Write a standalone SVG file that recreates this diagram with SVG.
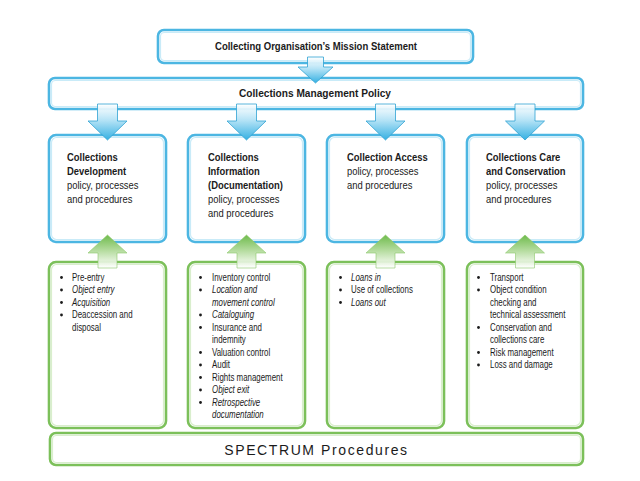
<svg xmlns="http://www.w3.org/2000/svg" width="640" height="481" viewBox="0 0 640 481">
<defs>
<linearGradient id="gBlue" x1="0" y1="0" x2="0" y2="1">
<stop offset="0" stop-color="#ffffff" stop-opacity="0.9"/>
<stop offset="0.45" stop-color="#b5e3f6"/>
<stop offset="1" stop-color="#35b0e2"/>
</linearGradient>
<linearGradient id="gGreen" x1="0" y1="0" x2="0" y2="1">
<stop offset="0" stop-color="#6fbb4c"/>
<stop offset="0.5" stop-color="#b9dea4"/>
<stop offset="1" stop-color="#ffffff" stop-opacity="0.9"/>
</linearGradient>
</defs>
<style>
.bb{fill:#fff;stroke:#4cb6e2;stroke-width:2.6}
.bi{fill:none;stroke:#c9ebf8;stroke-width:1.2}
.gb{fill:#fff;stroke:#7cc05a;stroke-width:2.6}
.gi{fill:none;stroke:#d9eecd;stroke-width:1.2}
text{font-family:"Liberation Sans",Arial,sans-serif;fill:#1b1b1b}
.t{font-size:11.5px;font-weight:bold}
.h{font-size:11.5px;font-weight:bold}
.p{font-size:11.5px}
.l{font-size:10px}
.i{font-style:italic}
.sp{font-size:14px;letter-spacing:1.6px}
.ab{fill:url(#gBlue);stroke:#2fa2d3;stroke-width:0.8}
.ag{fill:url(#gGreen);stroke:#8cc86a;stroke-width:0.6}
.dot{fill:#1b1b1b}
</style>

<g id="mission">
<rect class="bb" x="158" y="30" width="315" height="33" rx="6"/>
<rect class="bi" x="160.5" y="32.5" width="310" height="28" rx="4"/>
<text class="t" x="316" y="50" text-anchor="middle" textLength="202" lengthAdjust="spacingAndGlyphs">Collecting Organisation’s Mission Statement</text>
</g>

<g id="policy">
<rect class="bb" x="49" y="78" width="534" height="31" rx="6"/>
<rect class="bi" x="51.5" y="80.5" width="529" height="26" rx="4"/>
<text class="t" x="315" y="97" text-anchor="middle" textLength="152" lengthAdjust="spacingAndGlyphs">Collections Management Policy</text>
</g>

<g id="col1">
<rect class="bb" x="49" y="135" width="117" height="107" rx="7"/>
<rect class="bi" x="51.5" y="137.5" width="112" height="102" rx="5"/>
<g transform="translate(67,0) scale(0.82,1)">
<text class="h" x="0" y="161">Collections</text>
<text class="h" x="0" y="175">Development</text>
<text class="p" x="0" y="189">policy, processes</text>
<text class="p" x="0" y="203">and procedures</text>
</g>
</g>

<g id="col2">
<rect class="bb" x="188" y="135" width="117" height="107" rx="7"/>
<rect class="bi" x="190.5" y="137.5" width="112" height="102" rx="5"/>
<g transform="translate(208,0) scale(0.82,1)">
<text class="h" x="0" y="161">Collections</text>
<text class="h" x="0" y="175">Information</text>
<text class="h" x="0" y="189">(Documentation)</text>
<text class="p" x="0" y="203">policy, processes</text>
<text class="p" x="0" y="217">and procedures</text>
</g>
</g>

<g id="col3">
<rect class="bb" x="327" y="135" width="117" height="107" rx="7"/>
<rect class="bi" x="329.5" y="137.5" width="112" height="102" rx="5"/>
<g transform="translate(347,0) scale(0.82,1)">
<text class="h" x="0" y="161">Collection Access</text>
<text class="p" x="0" y="175">policy, processes</text>
<text class="p" x="0" y="189">and procedures</text>
</g>
</g>

<g id="col4">
<rect class="bb" x="467" y="135" width="116" height="107" rx="7"/>
<rect class="bi" x="469.5" y="137.5" width="111" height="102" rx="5"/>
<g transform="translate(486,0) scale(0.82,1)">
<text class="h" x="0" y="161">Collections Care</text>
<text class="h" x="0" y="175">and Conservation</text>
<text class="p" x="0" y="189">policy, processes</text>
<text class="p" x="0" y="203">and procedures</text>
</g>
</g>

<g id="list1">
<rect class="gb" x="49" y="262" width="117" height="166" rx="7"/>
<rect class="gi" x="51.5" y="264.5" width="112" height="161" rx="5"/>
<circle class="dot" cx="61.5" cy="277.5" r="1.4"/>
<circle class="dot" cx="61.5" cy="290" r="1.4"/>
<circle class="dot" cx="61.5" cy="302.5" r="1.4"/>
<circle class="dot" cx="61.5" cy="315" r="1.4"/>
<g transform="translate(72,0) scale(0.79,1)">
<text class="l" x="0" y="281">Pre-entry</text>
<text class="l i" x="0" y="293.5">Object entry</text>
<text class="l i" x="0" y="306">Acquisition</text>
<text class="l" x="0" y="318.5">Deaccession and</text>
<text class="l" x="0" y="331">disposal</text>
</g>
</g>

<g id="list2">
<rect class="gb" x="188" y="262" width="117" height="166" rx="7"/>
<rect class="gi" x="190.5" y="264.5" width="112" height="161" rx="5"/>
<circle class="dot" cx="200.5" cy="277.5" r="1.4"/>
<circle class="dot" cx="200.5" cy="290" r="1.4"/>
<circle class="dot" cx="200.5" cy="315" r="1.4"/>
<circle class="dot" cx="200.5" cy="327.5" r="1.4"/>
<circle class="dot" cx="200.5" cy="352.5" r="1.4"/>
<circle class="dot" cx="200.5" cy="365" r="1.4"/>
<circle class="dot" cx="200.5" cy="377.5" r="1.4"/>
<circle class="dot" cx="200.5" cy="390" r="1.4"/>
<circle class="dot" cx="200.5" cy="402.5" r="1.4"/>
<g transform="translate(212,0) scale(0.79,1)">
<text class="l" x="0" y="281">Inventory control</text>
<text class="l i" x="0" y="293.5">Location and</text>
<text class="l i" x="0" y="306">movement control</text>
<text class="l i" x="0" y="318.5">Cataloguing</text>
<text class="l" x="0" y="331">Insurance and</text>
<text class="l" x="0" y="343.5">indemnity</text>
<text class="l" x="0" y="356">Valuation control</text>
<text class="l" x="0" y="368.5">Audit</text>
<text class="l" x="0" y="381">Rights management</text>
<text class="l i" x="0" y="393.5">Object exit</text>
<text class="l i" x="0" y="406">Retrospective</text>
<text class="l i" x="0" y="418.5">documentation</text>
</g>
</g>

<g id="list3">
<rect class="gb" x="327" y="262" width="117" height="166" rx="7"/>
<rect class="gi" x="329.5" y="264.5" width="112" height="161" rx="5"/>
<circle class="dot" cx="340.5" cy="277.5" r="1.4"/>
<circle class="dot" cx="340.5" cy="290" r="1.4"/>
<circle class="dot" cx="340.5" cy="302.5" r="1.4"/>
<g transform="translate(351,0) scale(0.79,1)">
<text class="l i" x="0" y="281">Loans in</text>
<text class="l" x="0" y="293.5">Use of collections</text>
<text class="l i" x="0" y="306">Loans out</text>
</g>
</g>

<g id="list4">
<rect class="gb" x="467" y="262" width="116" height="166" rx="7"/>
<rect class="gi" x="469.5" y="264.5" width="111" height="161" rx="5"/>
<circle class="dot" cx="478.5" cy="277.5" r="1.4"/>
<circle class="dot" cx="478.5" cy="290" r="1.4"/>
<circle class="dot" cx="478.5" cy="327.5" r="1.4"/>
<circle class="dot" cx="478.5" cy="352.5" r="1.4"/>
<circle class="dot" cx="478.5" cy="365" r="1.4"/>
<g transform="translate(490,0) scale(0.79,1)">
<text class="l" x="0" y="281">Transport</text>
<text class="l" x="0" y="293.5">Object condition</text>
<text class="l" x="0" y="306">checking and</text>
<text class="l" x="0" y="318.5">technical assessment</text>
<text class="l" x="0" y="331">Conservation and</text>
<text class="l" x="0" y="343.5">collections care</text>
<text class="l" x="0" y="356">Risk management</text>
<text class="l" x="0" y="368.5">Loss and damage</text>
</g>
</g>

<g id="spectrum">
<rect class="gb" x="50" y="433" width="533" height="32" rx="6"/>
<rect class="gi" x="52.5" y="435.5" width="528" height="27" rx="4"/>
<text class="sp" x="316.5" y="455" text-anchor="middle">SPECTRUM Procedures</text>
</g>

<g id="connectors">
<path class="ab" d="M307.5,57 H323.5 V67 H333 L315.5,83 L298,67 H307.5 Z"/>
<path class="ab" d="M97.5,104 H117.5 V121 H127 L107.5,140 L88,121 H97.5 Z"/>
<path class="ab" d="M236.5,104 H256.5 V121 H266 L246.5,140 L227,121 H236.5 Z"/>
<path class="ab" d="M375.5,104 H395.5 V121 H405 L385.5,140 L366,121 H375.5 Z"/>
<path class="ab" d="M515,104 H535 V121 H544.5 L525,140 L505.5,121 H515 Z"/>
<path class="ag" d="M98,268 H117 V253 H127 L107.5,235 L88,253 H98 Z"/>
<path class="ag" d="M237,268 H256 V253 H266 L246.5,235 L227,253 H237 Z"/>
<path class="ag" d="M376,268 H395 V253 H405 L385.5,235 L366,253 H376 Z"/>
<path class="ag" d="M515.5,268 H534.5 V253 H544.5 L525,235 L505.5,253 H515.5 Z"/>
</g>
</svg>
